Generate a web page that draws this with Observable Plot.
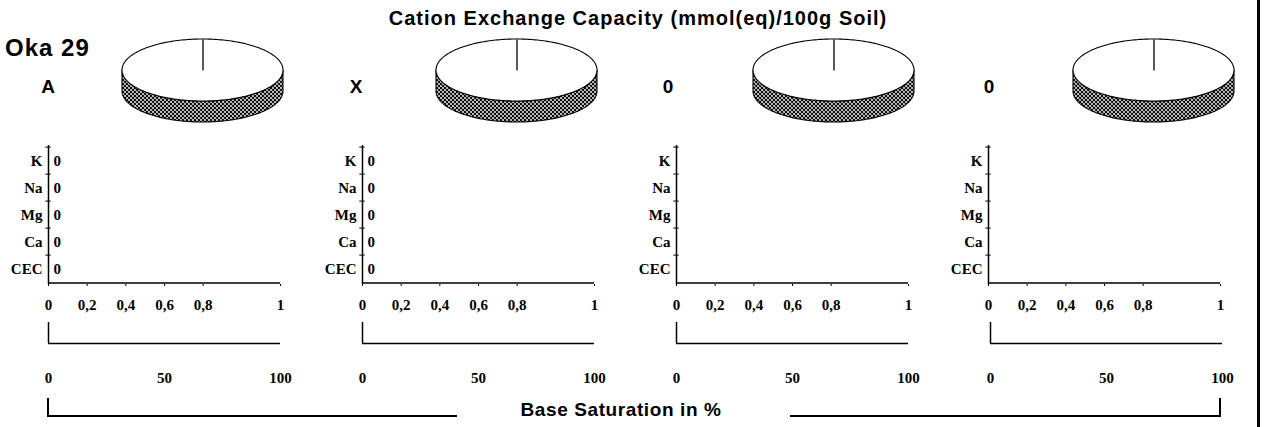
<!DOCTYPE html>
<html><head><meta charset="utf-8">
<script src="https://cdn.jsdelivr.net/npm/d3@7"></script>
<script src="https://cdn.jsdelivr.net/npm/@observablehq/plot@0.6"></script>
<style>
html,body{margin:0;padding:0;background:#fff;}
#root{position:relative;width:1266px;height:427px;overflow:hidden;background:#fff;}
.lbl{position:absolute;font-family:"Liberation Sans",Arial,sans-serif;font-weight:bold;color:#000;white-space:nowrap;line-height:1;transform:translate(-50%,-50%);}
.ln{position:absolute;background:#000;}
</style></head><body><div id="root"></div>
<svg width="0" height="0" style="position:absolute"><defs>
<pattern id="hatch" patternUnits="userSpaceOnUse" width="4" height="4">
<rect width="4" height="4" fill="#fff"/>
<path d="M0,0L4,4M4,0L0,4M-1,3L1,5M3,-1L5,1" stroke="#000" stroke-width="1.1"/>
</pattern></defs></svg>
<script>
// ---------- data ----------
const chartTitle = "Cation Exchange Capacity (mmol(eq)/100g Soil)";
const profileName = "Oka 29";
const axisTitle = "Base Saturation in %";
const horizons = ["A", "X", "0", "0"];
const cations = ["K", "Na", "Mg", "Ca", "CEC"];
const cationValuesA = [0, 0, 0, 0, 0];
const cationValuesX = [0, 0, 0, 0, 0];
const cationValues3 = [null, null, null, null, null];
const cationValues4 = [null, null, null, null, null];
const baseSaturation = [0, 0, null, null];
const pieShares = [[1], [1], [1], [1]];
const cecTickValues = [0, 0.2, 0.4, 0.6, 0.8, 1.2];
const cecTickLabels = ["0", "0,2", "0,4", "0,6", "0,8", "1"];
const bsTicks = [0, 50, 100];

const cationValues = [cationValuesA, cationValuesX, cationValues3, cationValues4];

// ---------- layout ----------
const panelX = [48, 362, 676, 988];
const bsX = [48, 362, 676, 990];
const panelW = 232;
const letterX = [48, 356, 668, 989];
const pieCX = [202, 516, 833, 1153];
const yTop = 145, yBot = 284;

const root = document.getElementById("root");
const fmt = d => String(d).replace(".", ",");
const tickFmt = d => cecTickLabels[cecTickValues.indexOf(d)] ?? fmt(d);
const serif = '"Liberation Serif","Times New Roman",serif';

function place(el, left, top) {
  el.style.position = "absolute";
  el.style.left = left + "px";
  el.style.top = top + "px";
  root.appendChild(el);
}
function label(text, x, y, size, spacing) {
  const d = document.createElement("div");
  d.className = "lbl";
  d.textContent = text;
  d.style.left = x + "px";
  d.style.top = y + "px";
  d.style.fontSize = size + "px";
  if (spacing) d.style.letterSpacing = spacing + "px";
  root.appendChild(d);
  return d;
}
function line(x, y, w, h) {
  const d = document.createElement("div");
  d.className = "ln";
  d.style.left = x + "px"; d.style.top = y + "px";
  d.style.width = w + "px"; d.style.height = h + "px";
  root.appendChild(d);
}

const PR = 80.5, PRY = 31, PTH = 21, PM = 3;
function pieChart(shares) {
  const t = PTH / PRY;
  const arcs = d3.pie().sort(null)(shares);
  const N = 120;
  const half = d3.range(N + 1).map(k => Math.PI * k / N);
  const side = half.map(a => ({x: Math.cos(a), y1: Math.sin(a), y2: Math.sin(a) + t}));
  const top = half.map(a => ({x: Math.cos(a), y1: -Math.sin(a), y2: Math.sin(a)}));
  const spokes = arcs.map(d => ({x: Math.sin(d.startAngle), y: -Math.cos(d.startAngle)}));
  return Plot.plot({
    width: 2 * PR + 2 * PM, height: 2 * PRY + PTH + 2 * PM,
    margin: PM,
    style: {background: "transparent", overflow: "visible"},
    x: {domain: [-1, 1], axis: null},
    y: {domain: [-1, 1 + t], range: [PM, 2 * PRY + PTH + PM], axis: null},
    marks: [
      Plot.areaY(side, {x: "x", y1: "y1", y2: "y2", fill: "url(#hatch)", stroke: "black", strokeWidth: 1.1}),
      Plot.areaY(top, {x: "x", y1: "y1", y2: "y2", fill: "white", stroke: "black", strokeWidth: 1.1}),
      Plot.link(spokes, {x1: 0, y1: 0, x2: "x", y2: "y", stroke: "black", strokeWidth: 1.3})
    ]
  });
}

function cecPanel(i) {
  const ML = 48, MR = 16, MT = 4, MB = 32;
  const data = cations.map((c, j) => ({cation: c, value: cationValues[i][j]}));
  const shown = data.filter(d => d.value != null);
  const bw = (yBot - yTop) / cations.length;
  return Plot.plot({
    width: ML + panelW + MR, height: MT + (yBot - yTop) + MB,
    marginLeft: ML, marginRight: MR, marginTop: MT, marginBottom: MB,
    style: {fontFamily: serif, fontSize: "15px", fontWeight: "bold", color: "black", background: "transparent", overflow: "visible"},
    x: {domain: [0, 1.2]},
    y: {type: "band", domain: cations, padding: 0},
    marks: [
      Plot.barX(shown, {x: "value", y: "cation", fill: "black"}),
      Plot.ruleX([0], {stroke: "black", strokeWidth: 1.5}),
      Plot.ruleY([cations[cations.length - 1]], {dy: bw / 2, stroke: "black", strokeWidth: 1.5}),
      Plot.ruleY(cations, {y: d => d, x1: -0.014, x2: 0.014, dy: -bw / 2, stroke: "black", strokeWidth: 1}),
      Plot.axisX({ticks: cecTickValues, tickFormat: tickFmt, tickSize: 2, tickPadding: 13, label: null, fontWeight: "bold"}),
      Plot.axisY({tickSize: 0, tickPadding: 6, label: null, fontWeight: "bold"}),
      Plot.text(shown, {x: "value", y: "cation", text: d => fmt(d.value), dx: 5, textAnchor: "start", fontWeight: "bold"})
    ]
  });
}

function bsPanel(i) {
  const ML = 20, MR = 20, MT = 4, MB = 50;
  const v = baseSaturation[i];
  return Plot.plot({
    width: ML + panelW + MR, height: MT + 21 + MB,
    marginLeft: ML, marginRight: MR, marginTop: MT, marginBottom: MB,
    style: {fontFamily: serif, fontSize: "15px", fontWeight: "bold", color: "black", background: "transparent", overflow: "visible"},
    x: {domain: [0, 100]},
    y: {domain: [0, 1], axis: null},
    marks: [
      Plot.rectX(v != null ? [v] : [], {x1: 0, x2: d => d, y1: 0, y2: 0.5, fill: "black"}),
      Plot.ruleX([0], {stroke: "black", strokeWidth: 1.5}),
      Plot.ruleY([0], {stroke: "black", strokeWidth: 1.5}),
      Plot.axisX({ticks: bsTicks, tickSize: 0, tickPadding: 29, label: null, fontWeight: "bold"})
    ]
  });
}

// ---------- compose ----------
label(chartTitle, 638, 18, 20, 1);
const oka = label(profileName, 5, 48, 24, 1);
oka.style.transform = "translate(0,-50%)";

for (let i = 0; i < 4; i++) {
  label(horizons[i], letterX[i], 86, 19);
  const p = pieChart(pieShares[i]);
  place(p, pieCX[i] - PR - PM, 39 - PM);
  const c = cecPanel(i);
  place(c, panelX[i] - 48, yTop - 4);
  const b = bsPanel(i);
  place(b, bsX[i] - 20, 322 - 4);
}

// bottom bracket and axis title
line(47, 398, 1.5, 18);
line(47, 415, 410, 1.5);
label(axisTitle, 621, 409, 19, 0.6);
line(790, 415, 430, 1.5);
line(1219, 398, 1.5, 18.5);
// right border
line(1257, 0, 2.5, 427);
</script></body></html>
